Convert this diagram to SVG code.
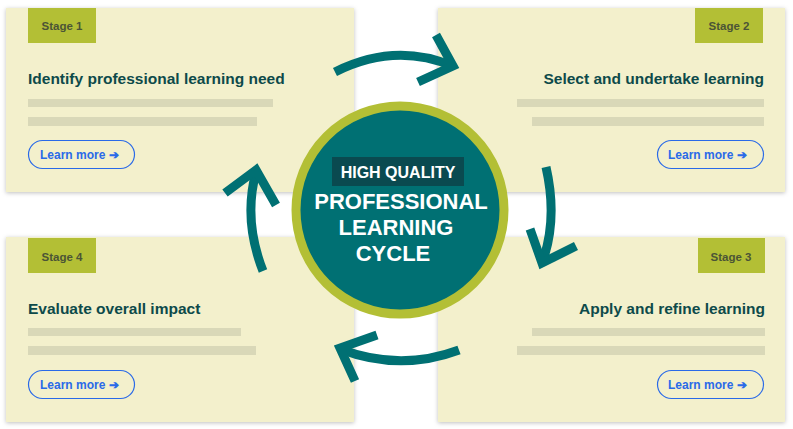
<svg xmlns="http://www.w3.org/2000/svg" width="793" height="429" viewBox="0 0 793 429">
<defs>
<filter id="sh" x="-5%" y="-5%" width="110%" height="110%"><feDropShadow dx="0" dy="1" stdDeviation="2" flood-color="#000" flood-opacity="0.25"/></filter>
</defs>
<style>
.card{fill:#f3f0cc;filter:url(#sh)}
.badge{fill:#b3bf35}
.bt{font:bold 11.5px "Liberation Sans",Arial,sans-serif;fill:#4b5436}
.title{font:bold 15.5px "Liberation Sans",Arial,sans-serif;fill:#0d4a4a}
.bar{fill:#d9d8b8}
.btn{fill:none;stroke:#2a6ae8;stroke-width:1.2}
.btx{font:bold 12px "Liberation Sans",Arial,sans-serif;fill:#2a6ae8}
.arr{fill:none;stroke:#007073;stroke-width:9}
.ct{font:bold 22px "Liberation Sans",Arial,sans-serif;fill:#fff;text-anchor:middle}
</style>
<rect width="793" height="429" fill="#fff"/>
<g id="stage1">
<rect class="card" x="6" y="8" width="348" height="184"/>
<rect class="badge" x="28" y="8" width="68" height="35"/>
<text class="bt" x="62" y="30" text-anchor="middle">Stage 1</text>
<text class="title" x="28" y="84">Identify professional learning need</text>
<rect class="bar" x="28" y="99" width="245" height="8"/>
<rect class="bar" x="28" y="117" width="229" height="9"/>
<rect class="btn" x="28.5" y="140.5" width="106" height="28" rx="14"/>
<text class="btx" x="40" y="159">Learn more ➔</text>
</g>
<g id="stage2">
<rect class="card" x="438" y="8" width="347" height="184"/>
<rect class="badge" x="695" y="8" width="68" height="35"/>
<text class="bt" x="729" y="30" text-anchor="middle">Stage 2</text>
<text class="title" x="764" y="84" text-anchor="end">Select and undertake learning</text>
<rect class="bar" x="517" y="99" width="247" height="8"/>
<rect class="bar" x="532" y="117" width="232" height="9"/>
<rect class="btn" x="657.5" y="140.5" width="106" height="28" rx="14"/>
<text class="btx" x="668" y="159">Learn more ➔</text>
</g>
<g id="stage4">
<rect class="card" x="6" y="237" width="348" height="185"/>
<rect class="badge" x="28" y="238" width="68" height="35"/>
<text class="bt" x="62" y="261" text-anchor="middle">Stage 4</text>
<text class="title" x="28" y="314">Evaluate overall impact</text>
<rect class="bar" x="28" y="328" width="213" height="8"/>
<rect class="bar" x="28" y="346" width="228" height="9"/>
<rect class="btn" x="28.5" y="370.5" width="106" height="28" rx="14"/>
<text class="btx" x="40" y="389">Learn more ➔</text>
</g>
<g id="stage3">
<rect class="card" x="438" y="237" width="347" height="185"/>
<rect class="badge" x="698" y="238" width="67" height="35"/>
<text class="bt" x="731" y="261" text-anchor="middle">Stage 3</text>
<text class="title" x="765" y="314" text-anchor="end">Apply and refine learning</text>
<rect class="bar" x="532" y="328" width="233" height="8"/>
<rect class="bar" x="517" y="346" width="248" height="9"/>
<rect class="btn" x="657.5" y="370.5" width="106" height="28" rx="14"/>
<text class="btx" x="668" y="389">Learn more ➔</text>
</g>
<g id="connectors">
<path class="arr" d="M335 72 Q395 42 452 66"/>
<path class="arr" d="M436 35 L453 66 L418 82"/>
<path class="arr" d="M546 167 Q558 220 542 263"/>
<path class="arr" d="M530 229 L542 263 L576 246"/>
<path class="arr" d="M459 350 Q400 372 340 349"/>
<path class="arr" d="M377 335 L340 348 L355 381"/>
<path class="arr" d="M263 271 Q243 220 256 172"/>
<path class="arr" d="M225 193 L256 170 L276 205"/>
</g>
<g id="center">
<circle cx="400" cy="210" r="104" fill="#007073" stroke="#b3bf35" stroke-width="9"/>
<rect x="332" y="157" width="132" height="29" fill="#0a4a50"/>
<text x="398" y="178" text-anchor="middle" style="font:bold 16px 'Liberation Sans',Arial,sans-serif;fill:#fff">HIGH QUALITY</text>
<text class="ct" x="401" y="209">PROFESSIONAL</text>
<text class="ct" x="396" y="235">LEARNING</text>
<text class="ct" x="393" y="261">CYCLE</text>
</g>
</svg>
